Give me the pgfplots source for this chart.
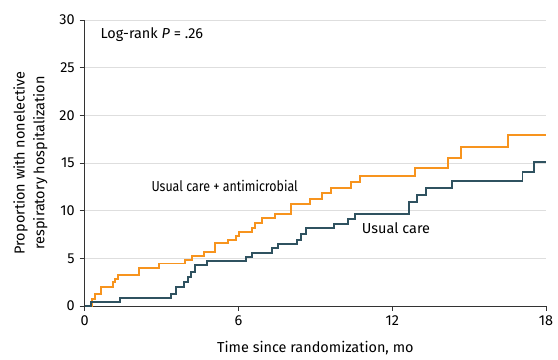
\documentclass[border=0pt]{standalone}
\usepackage{fontspec}
\setmainfont{Fira Sans}
\newfontfamily\lblfont{Fira Sans}
\newfontfamily\annfont{Fira Sans}[FakeStretch=0.86]
\usepackage{pgfplots}
\pgfplotsset{compat=1.18}
\renewcommand\normalsize{\fontsize{14.5}{20}\selectfont}
\newcommand\lblsize{\lblfont\fontsize{14.5}{20}\selectfont}
\newcommand\annsize{\annfont\fontsize{14.5}{20}\selectfont}
\definecolor{uorange}{RGB}{247,148,30}
\definecolor{ublue}{RGB}{47,82,96}
\begin{document}
\normalsize
\begin{tikzpicture}[font=\normalsize]
\begin{axis}[
 scale only axis, width=463pt, height=287pt,
 xmin=0, xmax=18, ymin=0, ymax=30,
 axis x line=bottom, axis y line=left,
 axis line style={-, draw=black!80, line width=0.8pt},
 xtick={0,6,12,18}, ytick={0,5,...,30},
 tick align=outside, major tick length=5pt,
 tick style={black!80, line width=0.8pt},
 ymajorgrids, grid style={black!13, line width=0.8pt},
 /pgf/number format/assume math mode=true,
 tick label style={font=\lblsize},
 label style={font=\lblsize},
 xlabel={Time since randomization, mo},
 ylabel={Proportion with nonelective\\respiratory hospitalization},
 ylabel style={align=center, at={(axis description cs:-0.1177,0.5)}, anchor=center},
 xlabel style={at={(axis description cs:0.5,0)}, yshift=-42pt, anchor=center},
 clip=false,
]
\addplot[const plot, uorange, line width=2pt] coordinates {
(0,0) (0.3,0.7) (0.4,1.2) (0.65,1.95) (1.1,2.5) (1.2,2.8) (1.3,3.2) (2.1,3.95)
(2.9,4.45) (3.92,4.85) (4.2,5.25) (4.67,5.67) (5.1,6.55) (5.6,6.93) (5.9,7.35)
(6.03,7.76) (6.54,8.22) (6.65,8.7) (6.9,9.2) (7.43,9.65) (8.04,10.66) (8.8,11.18)
(9.27,11.8) (9.59,12.35) (10.4,13.0) (10.75,13.65) (12.87,14.5) (14.19,15.55)
(14.68,16.7) (16.53,17.97) (18,17.97)};
\addplot[const plot, ublue, line width=2pt] coordinates {
(0,0) (0.26,0.42) (1.36,0.8) (3.37,1.22) (3.58,1.95) (3.89,2.54) (4.02,3.06)
(4.15,3.59) (4.32,4.32) (4.79,4.74) (6.3,5.12) (6.54,5.58) (7.31,6.03) (7.56,6.45)
(8.29,6.9) (8.42,7.5) (8.65,8.15) (9.72,8.6) (10.29,9.16) (10.55,9.65) (12.67,10.95)
(12.95,11.65) (13.3,12.35) (14.33,13.1) (17.08,14.07) (17.52,15.08) (18,15.08)};
\node[anchor=west, inner sep=0pt, font=\lblsize] at (axis cs:0.61,28.5) {Log-rank \textit{P} = .26};
\node[anchor=west, inner sep=0pt, font=\annsize] at (axis cs:2.6,12.6) {Usual care + antimicrobial};
\node[anchor=west, inner sep=0pt, font=\lblsize] at (axis cs:10.81,8.15) {Usual care};
\end{axis}
\path ([shift={(-85pt,-50pt)}]current axis.south west) rectangle ([shift={(10pt,20pt)}]current axis.north east);
\end{tikzpicture}
\end{document}
